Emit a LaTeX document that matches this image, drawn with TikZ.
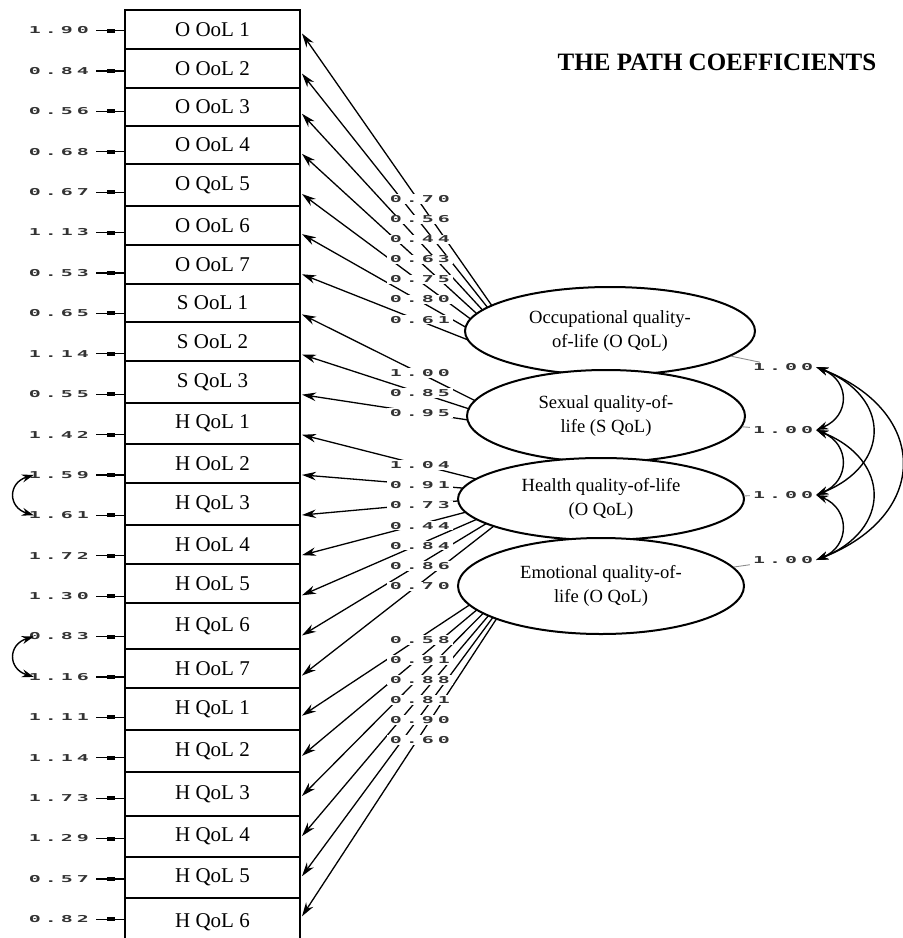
\documentclass[tikz,border=0pt]{standalone}
\usepackage{fontspec}
\usepackage{graphicx}
\setmainfont{Liberation Serif}
\newfontfamily\lisfont{DejaVu Sans Mono}
\usetikzlibrary{shapes.geometric,arrows.meta,calc}
\newcommand\lvc[1]{\makebox[16pt]{\scalebox{2.1}[1]{#1}}}
\def\lvaux#1#2#3#4\relax{\lvc{#1}\lvc{#2}\lvc{#3}\lvc{#4}}
\newcommand\lv[1]{\expandafter\lvaux#1\relax}
\tikzset{
  obsbox/.style={draw, line width=2.4pt, minimum width=175pt, inner sep=0pt, font=\fontsize{21}{24}\selectfont},
  lat/.style={ellipse, draw, line width=2pt, fill=white, inner sep=0pt, align=center, font=\fontsize{18.6}{24}\selectfont},
  lis/.style={font=\lisfont\bfseries\fontsize{9.5}{11}\selectfont, text=black!80, inner sep=1pt},
  coef/.style={lis, fill=white},
  load/.style={-{Stealth[length=14pt,width=8.5pt]}, line width=1.3pt},
  corr/.style={{Stealth[length=12pt,width=8pt]}-{Stealth[length=12pt,width=8pt]}, line width=1.4pt},
  errln/.style={line width=1.2pt, shorten <=4pt},
  sq/.style={fill=black, minimum width=8pt, minimum height=4pt, inner sep=0pt},
  varln/.style={black!45, line width=0.9pt},
  ttl/.style={font=\bfseries\fontsize{25}{28}\selectfont},
}
\begin{document}
\begin{tikzpicture}[x=1pt,y=-1pt]
\fill[white] (0,0) rectangle (903,938);
\useasboundingbox (0,0) rectangle (903,938);

\node[ttl] (title) at (717,62) {THE PATH COEFFICIENTS};

% observed variables
\foreach \i/\a/\b/\t in {
 1/10/49/{O OoL 1}, 2/49/88/{O OoL 2}, 3/88/126/{O OoL 3}, 4/126/164/{O OoL 4},
 5/164/206/{O QoL 5}, 6/206/245/{O OoL 6}, 7/245/284/{O OoL 7}, 8/284/322/{S OoL 1},
 9/322/361/{S OoL 2}, 10/361/403/{S QoL 3}, 11/403/444/{H QoL 1}, 12/444/483/{H OoL 2},
 13/483/525/{H QoL 3}, 14/525/564/{H OoL 4}, 15/564/603/{H OoL 5}, 16/603/649/{H QoL 6},
 17/649/688/{H OoL 7}, 18/688/730/{H QoL 1}, 19/730/772/{H QoL 2}, 20/772/816/{H QoL 3},
 21/816/857/{H QoL 4}, 22/857/898/{H QoL 5}, 23/898/946/{H QoL 6}}
 \node[obsbox, minimum height={(\b-\a)*1pt}] (b\i) at (212.5,{(\a+\b)/2}) {\t};

\foreach \i in {1,...,23} {
  \coordinate (w\i) at (125,{30.5+40.4*(\i-1)});
  \coordinate (t\i) at (302,{33.5+40.4*(\i-1)-6*(\i-1)/22});
}

% error terms
\foreach \v [count=\i] in {1.90,0.84,0.56,0.68,0.67,1.13,0.53,0.65,1.14,0.55,1.42,1.59,1.61,1.72,1.30,0.83,1.16,1.11,1.14,1.73,1.29,0.57,0.82} {
  \node[lis, fill=white] (e\i) at (59,{30.5+40.4*(\i-1)}) {\lv{\v}};
  \draw[errln] (e\i) -- node[sq, pos=0.58]{} (w\i);
}
\draw[corr] ($(e12.west)+(8,0)$) .. controls +(-26,8) and +(-26,-8) .. ($(e13.west)+(8,0)$);
\draw[corr] ($(e16.west)+(8,0)$) .. controls +(-26,8) and +(-26,-8) .. ($(e17.west)+(8,0)$);

% loadings
\coordinate (pO) at (534,366);
\coordinate (pS) at (534,430);
\coordinate (pH) at (535,494);
\coordinate (pE) at (533,563);
\foreach \i in {1,...,7} \draw[load] (pO) -- (t\i);
\foreach \i in {8,9,10} \draw[load] (pS) -- (t\i);
\foreach \i in {11,...,17} \draw[load] (pH) -- (t\i);
\foreach \i in {18,...,23} \draw[load] (pE) -- (t\i);

% latent variables
\node[lat, minimum width=290pt, minimum height=88pt] (lO) at (610,331) {Occupational quality-\\of-life (O QoL)};
\node[lat, minimum width=278pt, minimum height=92pt] (lS) at (606,416) {Sexual quality-of-\\life (S QoL)};
\node[lat, minimum width=286pt, minimum height=82pt] (lH) at (601,499) {Health quality-of-life\\(O QoL)};
\node[lat, minimum width=286pt, minimum height=96pt] (lE) at (601,586) {Emotional quality-of-\\life (O QoL)};

% variances of latents
\node[coef] (v1) at (783,367) {\lv{1.00}};
\node[coef] (v2) at (783,430) {\lv{1.00}};
\node[coef] (v3) at (783,495) {\lv{1.00}};
\node[coef] (v4) at (783,560) {\lv{1.00}};
\draw[varln] (lO) -- (v1);
\draw[varln] (lS) -- (v2);
\draw[varln] (lH) -- (v3);
\draw[varln] (lE) -- (v4);
\draw[corr] (v1.east) .. controls +(34,14) and +(34,-14) .. (v2.east);
\draw[corr] (v2.east) .. controls +(34,14) and +(34,-14) .. (v3.east);
\draw[corr] (v3.east) .. controls +(34,14) and +(34,-14) .. (v4.east);
\draw[corr] (v1.east) .. controls +(75,30) and +(75,-30) .. (v3.east);
\draw[corr] (v2.east) .. controls +(75,30) and +(75,-30) .. (v4.east);
\draw[corr] (v1.east) .. controls +(114,45) and +(114,-45) .. (v4.east);

% coefficients
\foreach \v [count=\k from 0] in {0.70,0.56,0.44,0.63,0.75,0.80,0.61}
  \node[coef] (cO\k) at (420,{199+20.1*\k}) {\lv{\v}};
\foreach \v [count=\k from 0] in {1.00,0.85,0.95}
  \node[coef] (cS\k) at (420,{373+20*\k}) {\lv{\v}};
\foreach \v [count=\k from 0] in {1.04,0.91,0.73,0.44,0.84,0.86,0.70}
  \node[coef] (cH\k) at (420,{465+20.2*\k}) {\lv{\v}};
\foreach \v [count=\k from 0] in {0.58,0.91,0.88,0.81,0.90,0.60}
  \node[coef] (cE\k) at (420,{640+20*\k}) {\lv{\v}};
\end{tikzpicture}
\end{document}
